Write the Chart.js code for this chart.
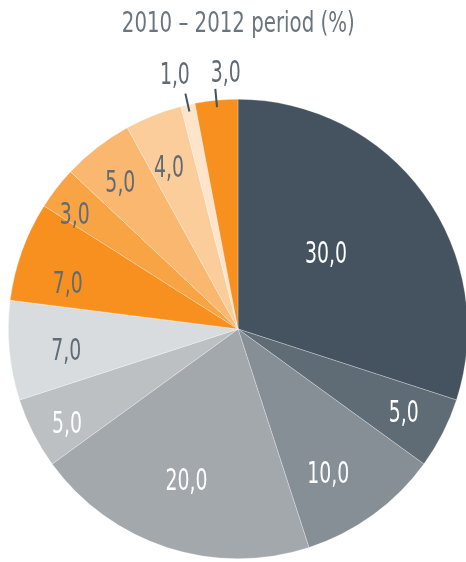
<!DOCTYPE html>
<html>
<head>
<meta charset="utf-8">
<script src="https://cdn.jsdelivr.net/npm/chart.js@4"></script>
<style>
  html, body { margin: 0; padding: 0; background: #fff; width: 466px; height: 562px; overflow: hidden; }
  #title {
    position: absolute; left: 5px; top: 6px; width: 466px; text-align: center; z-index: 2;
    font-family: "Liberation Sans Narrow", "Arial Narrow", "DejaVu Sans Condensed", sans-serif;
    font-size: 28px; color: #6a757e; white-space: nowrap;
  }
  #title span { display: inline-block; transform-origin: center; }
  #pie { position: absolute; left: 0; top: 0; }
</style>
</head>
<body>
<div id="title"><span id="titleText">2010 – 2012 period (%)</span></div>
<canvas id="pie" width="470" height="562"></canvas>
<script>
const labels = ["A", "B", "C", "D", "E", "F", "G", "H", "I", "J", "K", "L"];
const values = [30, 5, 10, 20, 5, 7, 7, 3, 5, 4, 1, 3];

const sliceColors = ["#44535f", "#5f6b75", "#858f95", "#a3a8ac", "#bcc0c3", "#d9dcdf",
  "#f7901e", "#f8a344", "#f9b76f", "#fbcd9b", "#fde4ca", "#f7901e"];
const textColors = ["#fff", "#fff", "#fff", "#fff", "#fff", "#5f6b75",
  "#5f6b75", "#5f6b75", "#5f6b75", "#5f6b75", "#5f6b75", "#5f6b75"];
// how far out each value label sits (share of the radius); > 1 gets a leader line
const labelRadius = [0.5, 0.81, 0.75, 0.71, 0.86, 0.76, 0.76, 0.8, 0.8, 0.77, 1.14, 1.12];
// small hand tweaks so the labels sit where the original has them
const labelNudge = [[-5, -6], [0, 1], [-11, 7], [-1, -2], [5, 7], [2, 7],
  [-6, 15], [-18, 0], [-5, 0], [-4, 5], [-6, 3], [12, 1]];

const labelFont = '30px "Liberation Sans Narrow", "Arial Narrow", "DejaVu Sans Condensed", sans-serif';

// squeeze the title to the width of the original
const titleSpan = document.getElementById("titleText");
const w = titleSpan.getBoundingClientRect().width;
titleSpan.style.transform = `scaleX(${233 / w})`;

const valueLabels = {
  id: "valueLabels",
  afterDatasetsDraw(chart) {
    const ctx = chart.ctx;
    const arcs = chart.getDatasetMeta(0).data;
    ctx.save();
    ctx.font = labelFont;
    ctx.textAlign = "center";
    ctx.textBaseline = "middle";
    const squeeze = 42 / ctx.measureText("20,0").width;
    arcs.forEach((arc, i) => {
      const mid = (arc.startAngle + arc.endAngle) / 2;
      const R = arc.outerRadius;
      const f = labelRadius[i];
      if (f > 1) {
        ctx.strokeStyle = "#44535f";
        ctx.lineWidth = 2;
        ctx.beginPath();
        ctx.moveTo(arc.x + Math.cos(mid) * R * 0.97, arc.y + Math.sin(mid) * R * 0.97);
        ctx.lineTo(arc.x + Math.cos(mid) * R * 1.05, arc.y + Math.sin(mid) * R * 1.05);
        ctx.stroke();
      }
      const x = arc.x + Math.cos(mid) * R * f + labelNudge[i][0];
      const y = arc.y + Math.sin(mid) * R * f + labelNudge[i][1];
      ctx.save();
      ctx.translate(x, y);
      ctx.scale(squeeze, 1);
      ctx.fillStyle = textColors[i];
      ctx.fillText(values[i].toFixed(1).replace(".", ","), 0, 0);
      ctx.restore();
    });
    ctx.restore();
  }
};

new Chart(document.getElementById("pie").getContext("2d"), {
  type: "pie",
  data: {
    labels,
    datasets: [{
      data: values,
      backgroundColor: sliceColors,
      borderColor: "rgba(255,255,255,0.45)",
      borderWidth: 0.6
    }]
  },
  options: {
    responsive: false,
    animation: false,
    layout: { padding: { left: 8, top: 99, right: 2, bottom: 3 } },
    plugins: {
      legend: { display: false },
      tooltip: { enabled: false }
    }
  },
  plugins: [valueLabels]
});
</script>
</body>
</html>
